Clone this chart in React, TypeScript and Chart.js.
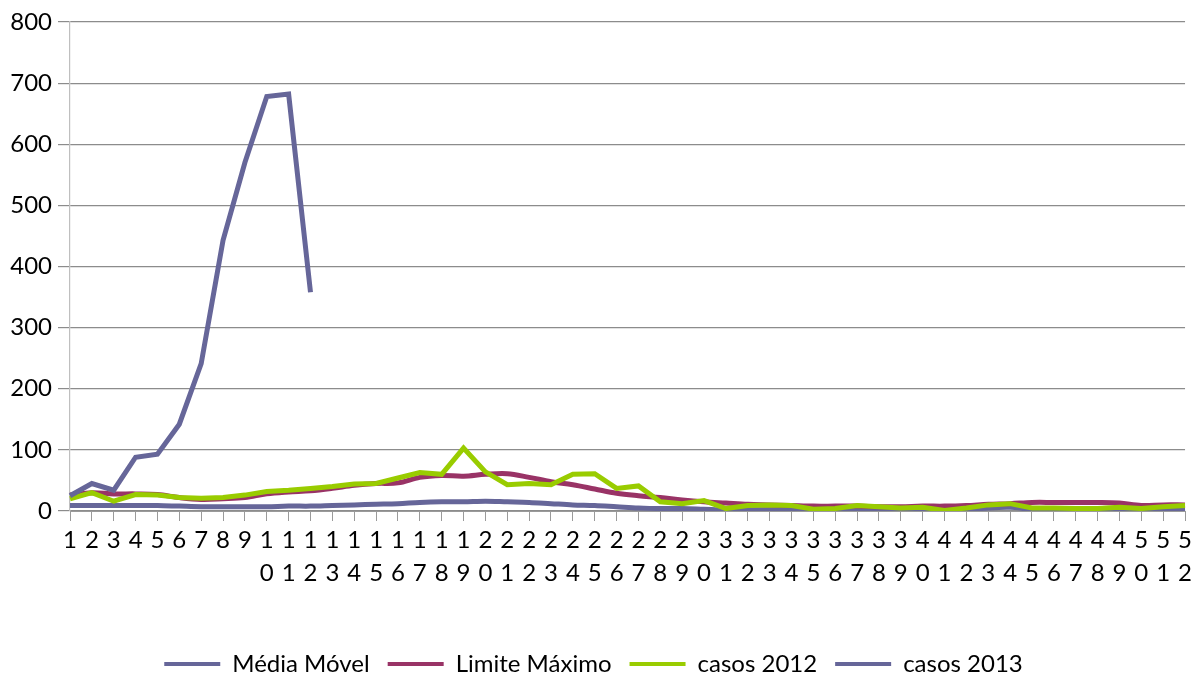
import React, { useEffect, useRef } from "react";
import { Chart, registerables } from "chart.js";

Chart.register(...registerables);

const weeks: number[] = Array.from({ length: 52 }, (_, i) => i + 1);
const weekLabels: string[][] = weeks.map((w) => String(w).split(""));

const mediaMovel: number[] = [
  9, 9, 9, 9, 9, 8, 7, 7, 7, 7, 8, 8, 9, 10, 11, 12, 14, 15, 15, 16,
  15, 14, 12, 10, 9, 7, 5, 4, 4, 3, 2, 2, 2, 2, 1, 1, 1, 2, 2, 2,
  1, 2, 5, 6, 3, 3, 2, 2, 3, 2, 2, 3,
];
const limiteMaximo: number[] = [
  26, 30, 28, 28, 27, 22, 19, 20, 22, 28, 31, 33, 37, 42, 45, 46, 55, 58, 57, 60,
  61, 55, 48, 43, 36, 29, 25, 22, 18, 15, 13, 11, 10, 9, 8, 8, 8, 7, 7, 8,
  8, 9, 11, 12, 14, 14, 14, 14, 13, 9, 10, 10,
];
const casos2012: number[] = [
  20, 30, 16, 27, 26, 22, 21, 22, 26, 32, 34, 37, 40, 44, 45, 54, 63, 60, 103, 64,
  43, 45, 43, 60, 61, 37, 41, 15, 12, 17, 4, 9, 10, 9, 3, 4, 9, 7, 5, 6,
  1, 5, 10, 12, 5, 5, 4, 4, 6, 4, 7, 9,
];
const casos2013: number[] = [25, 45, 34, 88, 93, 142, 241, 443, 570, 678, 682, 358];

const yTicks: number[] = [0, 100, 200, 300, 400, 500, 600, 700, 800];

const BLUE = "#666699";
const MAROON = "#993366";
const GREEN = "#99CC00";
const FONT = "Lato";

export default function App() {
  const ref = useRef<HTMLCanvasElement | null>(null);

  useEffect(() => {
    if (!ref.current) return;
    const chart = new Chart(ref.current, {
      type: "line",
      data: {
        labels: weekLabels,
        datasets: [
          {
            label: "Média Móvel",
            data: mediaMovel,
            borderColor: BLUE,
            backgroundColor: BLUE,
            borderWidth: 5,
            pointRadius: 0,
            tension: 0.35,
            order: 4,
          },
          {
            label: "Limite Máximo",
            data: limiteMaximo,
            borderColor: MAROON,
            backgroundColor: MAROON,
            borderWidth: 5,
            pointRadius: 0,
            tension: 0.35,
            order: 3,
          },
          {
            label: "casos 2012",
            data: casos2012,
            borderColor: GREEN,
            backgroundColor: GREEN,
            borderWidth: 5,
            pointRadius: 0,
            tension: 0,
            order: 2,
          },
          {
            label: "casos 2013",
            data: casos2013,
            borderColor: BLUE,
            backgroundColor: BLUE,
            borderWidth: 5,
            pointRadius: 0,
            tension: 0,
            order: 1,
          },
        ],
      },
      options: {
        animation: false,
        responsive: false,
        maintainAspectRatio: false,
        layout: { padding: { left: 0, right: 8, top: 22, bottom: -13 } },
        plugins: {
          tooltip: { enabled: false },
          legend: {
            position: "bottom",
            labels: {
              font: { family: FONT, size: 24 },
              color: "#000",
              boxWidth: 56,
              boxHeight: 4,
              padding: 18,
              sort: (a: any, b: any) => a.datasetIndex - b.datasetIndex,
              generateLabels: (c: any) => {
                const items = Chart.defaults.plugins.legend.labels.generateLabels(c);
                return items.map((it: any) => ({ ...it, lineWidth: 0 }));
              },
            },
          },
        },
        scales: {
          x: {
            type: "category",
            offset: false,
            grid: {
              drawOnChartArea: false,
              drawTicks: true,
              tickLength: 10,
              color: "#9a9a9a",
            },
            border: { color: "#9a9a9a", width: 1 },
            ticks: {
              autoSkip: false,
              maxRotation: 0,
              minRotation: 0,
              padding: 3,
              color: "#000",
              font: { family: FONT, size: 24, lineHeight: 1.375 },
            },
            afterFit: (s: any) => {
              s.height = 123;
            },
          },
          y: {
            min: 0,
            max: 800,
            afterBuildTicks: (s: any) => {
              s.ticks = yTicks.map((v) => ({ value: v }));
            },
            grid: {
              color: "#8c8c8c",
              tickLength: 12,
              lineWidth: 1.2,
            },
            border: { color: "#bfbfbf", width: 1.2 },
            ticks: {
              padding: 6,
              color: "#000",
              font: { family: FONT, size: 24 },
            },
            afterFit: (s: any) => {
              s.width = 70;
            },
          },
        },
      },
    });
    return () => chart.destroy();
  }, []);

  return (
    <div style={{ position: "fixed", left: 0, top: 0, width: 1195, height: 673, background: "#fff" }}>
      <canvas ref={ref} width={1195} height={673} style={{ width: 1195, height: 673 }} />
    </div>
  );
}
